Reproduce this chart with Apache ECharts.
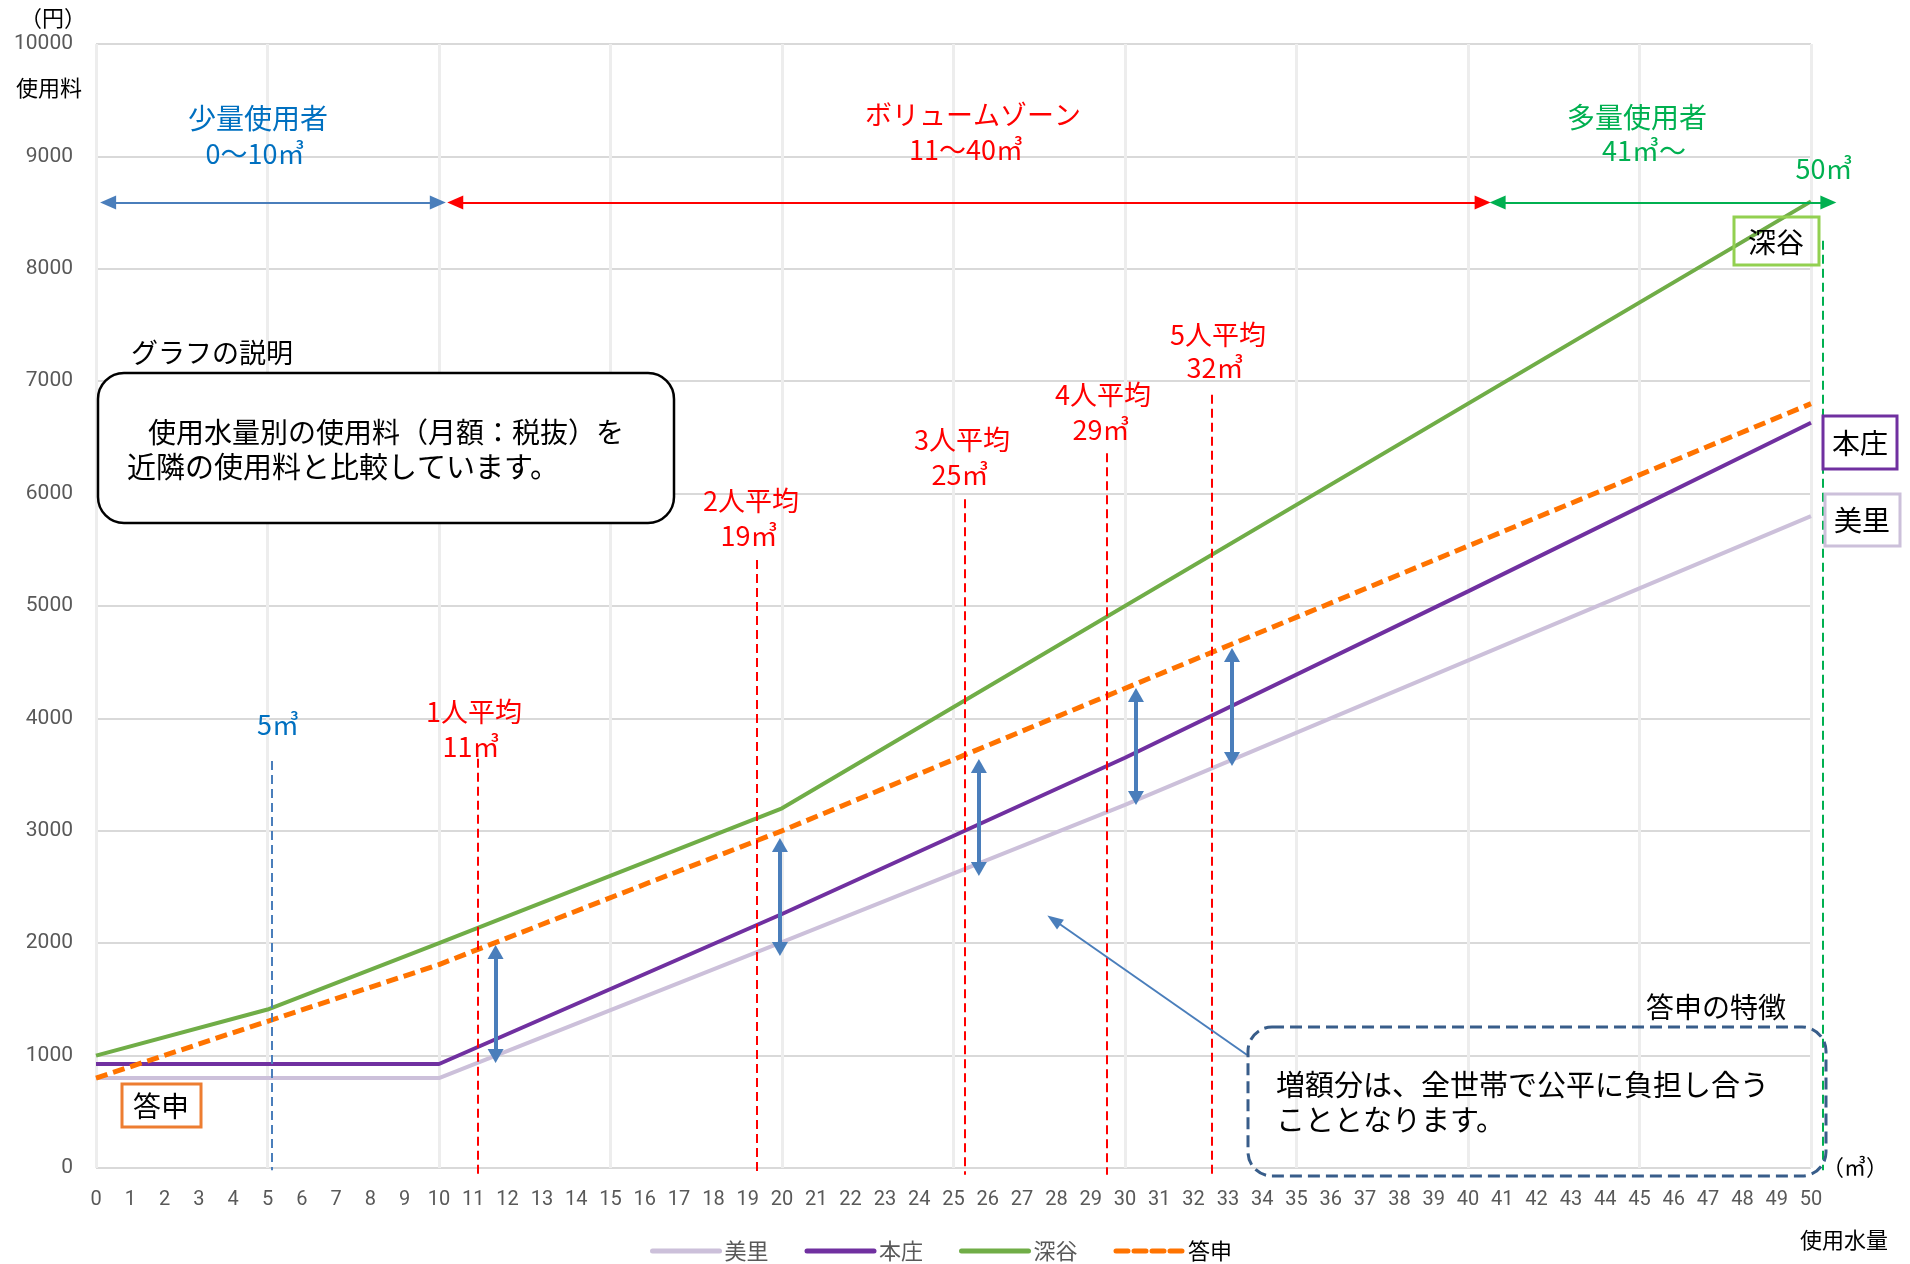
<!DOCTYPE html>
<html>
<head>
<meta charset="utf-8">
<script src="https://cdn.jsdelivr.net/npm/echarts@6/dist/echarts.min.js"></script>
<style>
    body {
        margin: 0px;
        padding: 0px;
        background: #fff;
    }
    #chart {
        width: 1910px;
        height: 1264px;
    }
</style>
</head>
<body>
<div id="chart"></div>
<script>
// 使用水量(㎥)ごとの使用料(円) — 折れ点だけ
var misato = [[0, 800], [10, 800], [20, 2010], [30, 3230], [50, 5800]];
var honjo = [[0, 925], [10, 925], [20, 2260], [30, 3650], [40, 5130], [50, 6630]];
var fukaya = [[0, 1000], [5, 1410], [10, 2000], [20, 3200], [50, 8600]];
var toshin = [[0, 800], [10, 1810], [20, 3000], [50, 6800]];

// 世帯人数別の平均使用水量 (縦の点線: x と上端)
var avgX = [11.12, 19.27, 25.33, 29.46, 32.54];
var avgTop = [3640, 5410, 5950, 6360, 6880];
var fiveX = 5.12, fiveTop = 3620;
var fiftyX = 50.35, fiftyTop = 8250;

// 答申との差の両矢印 (x, 下端, 上端)
var gapX = [11.65, 19.94, 25.74, 30.32, 33.12];
var gapLow = [934, 1886, 2598, 3230, 3577];
var gapHigh = [1984, 2936, 3639, 4271, 4626];

// 使用者区分の範囲
var zoneFrom = [0.15, 10.27, 40.66];
var zoneTo = [10.17, 40.63, 50.71];
var zoneY = 8590;

// 吹き出しの矢印 (枠 -> 指す点)
var calloutFrom = [33.56, 1005];
var calloutTo = [27.76, 2242];

var FONT = '"Noto Sans CJK JP", "Noto Sans", sans-serif';
var RED = '#ff0000', BLUE = '#0070c0', GREEN = '#00b050', ARROW = '#4a7ebb';
var chart = echarts.init(document.getElementById('chart'));

function txt(text, x, y, color, size, align) {
    return {
        type: 'text',
        z: 20,
        style: {
            text: text, x: x, y: y, fill: color,
            font: size + 'px ' + FONT,
            textAlign: align || 'center',
            textVerticalAlign: 'middle'
        }
    };
}
function box(x, y, w, h, color, r, fill, dash, lw) {
    return {
        type: 'rect',
        z: 15,
        shape: { x: x, y: y, width: w, height: h, r: r || 0 },
        style: { fill: fill || 'none', stroke: color, lineWidth: lw || 3, lineDash: dash || null }
    };
}

var mainSeries = [
    { name: '美里', type: 'line', data: misato, symbol: 'none', z: 3,
      lineStyle: { color: '#ccc0da', width: 4 }, itemStyle: { color: '#ccc0da' } },
    { name: '本庄', type: 'line', data: honjo, symbol: 'none', z: 3,
      lineStyle: { color: '#7030a0', width: 4 }, itemStyle: { color: '#7030a0' } },
    { name: '深谷', type: 'line', data: fukaya, symbol: 'none', z: 3,
      lineStyle: { color: '#70ad47', width: 4 }, itemStyle: { color: '#70ad47' } },
    { name: '答申', type: 'line', data: toshin, symbol: 'none', z: 4,
      lineStyle: { color: '#ff7300', width: 5, type: [12, 6] }, itemStyle: { color: '#ff7300' } }
];

chart.setOption({
    animation: false,
    textStyle: { fontFamily: FONT },
    grid: { left: 96, right: 99, top: 44, bottom: 96 },
    legend: {
        left: 650,
        top: 1240,
        padding: 0,
        itemWidth: 67,
        itemHeight: 14,
        itemGap: 36,
        itemStyle: { opacity: 0 },
        lineStyle: { width: 5, cap: 'round' },
        textStyle: { fontSize: 22, color: '#595959', fontFamily: FONT },
        data: ['美里', '本庄', '深谷', { name: '答申', textStyle: { color: '#000' } }]
    },
    xAxis: [{
        type: 'value',
        min: 0, max: 50, interval: 1,
        axisLine: { show: false },
        axisTick: { show: false },
        splitLine: { show: false },
        axisLabel: { fontSize: 20, color: '#595959', margin: 22, fontFamily: 'Roboto' }
    }, {
        type: 'value',
        position: 'top',
        min: 0, max: 50, interval: 5,
        axisLine: { show: false },
        axisTick: { show: false },
        axisLabel: { show: false },
        splitLine: { lineStyle: { color: '#ededed', width: 3 } }
    }],
    yAxis: {
        type: 'value',
        min: 0, max: 10000, interval: 1000,
        axisLine: { show: false },
        axisTick: { show: false },
        splitLine: { lineStyle: { color: '#d9d9d9', width: 2 } },
        axisLabel: {
            fontSize: 21, color: '#595959', margin: 23, fontFamily: 'Roboto',
            formatter: function (v) { return String(v); }
        }
    },
    series: mainSeries,
    graphic: [
        txt('（円）', 53, 18, '#000', 22),
        txt('使用料', 49, 88, '#000', 22),

        txt('少量使用者', 258, 118, BLUE, 28),
        txt('0〜10㎥', 255, 154, BLUE, 27),
        txt('ボリュームゾーン', 973, 115, RED, 27),
        txt('11〜40㎥', 966, 150, RED, 27),
        txt('多量使用者', 1637, 117, GREEN, 28),
        txt('41㎥〜', 1644, 151, GREEN, 27),
        txt('50㎥', 1824, 169, GREEN, 27),

        txt('5㎥', 278, 725, BLUE, 27),
        txt('1人平均', 474, 712, RED, 27),
        txt('11㎥', 471, 747, RED, 27),
        txt('2人平均', 751, 501, RED, 27),
        txt('19㎥', 749, 536, RED, 27),
        txt('3人平均', 962, 440, RED, 27),
        txt('25㎥', 960, 475, RED, 27),
        txt('4人平均', 1103, 395, RED, 27),
        txt('29㎥', 1101, 430, RED, 27),
        txt('5人平均', 1218, 335, RED, 27),
        txt('32㎥', 1215, 368, RED, 27),

        txt('グラフの説明', 212, 353, '#000', 27),
        box(98, 373, 576, 150, '#000', 26, '#fff', null, 2.5),
        txt('　使用水量別の使用料（月額：税抜）を', 120, 432, '#000', 28, 'left'),
        txt('近隣の使用料と比較しています。', 127, 467, '#000', 29, 'left'),

        txt('答申の特徴', 1716, 1007, '#000', 28),
        box(1248, 1027, 578, 149, '#385d8a', 24, 'none', [12, 6], 3),
        txt('増額分は、全世帯で公平に負担し合う', 1276, 1085, '#000', 29, 'left'),
        txt('こととなります。', 1276, 1120, '#000', 29, 'left'),

        box(122, 1084, 79, 43, '#ed7d31', 0, 'none', null, 3),
        txt('答申', 161, 1106, '#000', 28),
        box(1734, 217, 85, 48, '#92d050', 0, 'none', null, 3),
        txt('深谷', 1776, 242, '#000', 28),
        box(1823, 416, 74, 53, '#7030a0', 0, 'none', null, 3),
        txt('本庄', 1860, 443, '#000', 28),
        box(1825, 494, 75, 52, '#ccc0da', 0, 'none', null, 3),
        txt('美里', 1862, 520, '#000', 28),

        txt('（㎥）', 1855, 1167, '#000', 22),
        txt('使用水量', 1844, 1240, '#000', 22)
    ]
});

// 注記の線と矢印: データ座標を軸で画素へ変換して置く (範囲外の点も描けるように)
function px(pt) {
    return chart.convertToPixel({ xAxisIndex: 0, yAxisIndex: 0 }, pt);
}
// 矢印の先端は記号の中心に来るので、inset 画素だけ内側へ寄せる
function seg(a, b, insetA, insetB) {
    var p = px(a), q = px(b);
    var dx = q[0] - p[0], dy = q[1] - p[1];
    var len = Math.sqrt(dx * dx + dy * dy) || 1;
    var ux = dx / len, uy = dy / len;
    insetA = insetA || 0;
    insetB = insetB || 0;
    return [
        { x: p[0] + ux * insetA, y: p[1] + uy * insetA },
        { x: q[0] - ux * insetB, y: q[1] - uy * insetB }
    ];
}
function markSeries(name, lines, lineStyle, symbol, symbolSize) {
    return {
        name: name,
        type: 'line',
        data: [],
        silent: true,
        z: 5,
        markLine: {
            silent: true,
            animation: false,
            symbol: symbol,
            symbolSize: symbolSize,
            label: { show: false },
            emphasis: { disabled: true },
            lineStyle: lineStyle,
            data: lines
        }
    };
}

var dashed = [9, 5];
var avgLines = avgX.map(function (x, i) {
    return seg([x, avgTop[i]], [x, -60]);
});
var gapLines = gapX.map(function (x, i) {
    return seg([x, gapLow[i]], [x, gapHigh[i]], 7, 7);
});

chart.setOption({
    series: mainSeries.concat([
        markSeries('avg', avgLines, { color: RED, width: 2, type: dashed }, 'none', 0),
        markSeries('five', [seg([fiveX, fiveTop], [fiveX, -20])],
            { color: ARROW, width: 2, type: dashed }, 'none', 0),
        markSeries('fifty', [seg([fiftyX, fiftyTop], [fiftyX, -20])],
            { color: GREEN, width: 2, type: dashed }, 'none', 0),
        markSeries('gap', gapLines, { color: ARROW, width: 4, type: 'solid' },
            ['triangle', 'triangle'], [16, 14]),
        markSeries('zoneS', [seg([zoneFrom[0], zoneY], [zoneTo[0], zoneY], 7, 7)],
            { color: ARROW, width: 2, type: 'solid' }, ['triangle', 'triangle'], [14, 16]),
        markSeries('zoneV', [seg([zoneFrom[1], zoneY], [zoneTo[1], zoneY], 7, 7)],
            { color: RED, width: 2, type: 'solid' }, ['triangle', 'triangle'], [14, 16]),
        markSeries('zoneL', [seg([zoneFrom[2], zoneY], [zoneTo[2], zoneY], 7, 7)],
            { color: GREEN, width: 2, type: 'solid' }, ['triangle', 'triangle'], [14, 16]),
        markSeries('callout', [seg(calloutFrom, calloutTo, 0, 7)],
            { color: ARROW, width: 2, type: 'solid' }, ['none', 'triangle'], [12, 16])
    ])
});
</script>
</body>
</html>
